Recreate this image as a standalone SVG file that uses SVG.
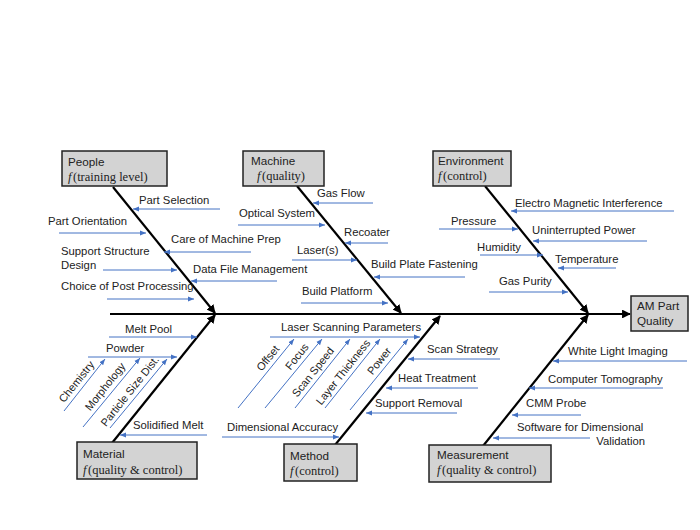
<svg xmlns="http://www.w3.org/2000/svg" width="700" height="530" viewBox="0 0 700 530">
<defs>
<marker id="ba" viewBox="0 0 10 10" refX="10" refY="5" markerWidth="6" markerHeight="6" orient="auto"><path d="M0,1 L10,5 L0,9 z" fill="#4472c4"/></marker>
<marker id="ka" viewBox="0 0 10 10" refX="9" refY="5" markerWidth="4" markerHeight="4" orient="auto"><path d="M0,0 L10,5 L0,10 z" fill="#000"/></marker>
<style>
.bl{stroke:#4472c4;stroke-width:1;fill:none;marker-end:url(#ba)}
.bone{stroke:#000;stroke-width:2.2;fill:none;marker-end:url(#ka)}
.t{font-family:"Liberation Sans",Arial,sans-serif;font-size:11.3px;fill:#222}
.r{font-family:"Liberation Sans",Arial,sans-serif;font-size:11px;fill:#222;text-anchor:middle}
.box{fill:#d3d3d3;stroke:#222;stroke-width:1.5}
.bt{font-family:"Liberation Sans",Arial,sans-serif;font-size:11.7px;fill:#222}
.ft{font-family:"Liberation Serif","Times New Roman",serif;font-size:12.5px;fill:#222}
</style>
</defs>
<rect width="700" height="530" fill="#fff"/>
<g id="connectors">
<line class="bone" x1="110" y1="314" x2="630" y2="314" stroke-width="2.5"/>
<line class="bone" x1="113" y1="187" x2="215" y2="313"/>
<line class="bone" x1="297" y1="186" x2="401" y2="313"/>
<line class="bone" x1="485" y1="186" x2="588" y2="313"/>
<line class="bone" x1="112" y1="443" x2="215" y2="315"/>
<line class="bone" x1="335" y1="445" x2="440" y2="316"/>
<line class="bone" x1="483" y1="446" x2="588" y2="315"/>
<line class="bl" x1="220" y1="209" x2="133" y2="209"/>
<line class="bl" x1="59" y1="233" x2="146" y2="233"/>
<line class="bl" x1="251" y1="252" x2="164" y2="252"/>
<line class="bl" x1="103" y1="270" x2="177" y2="270"/>
<line class="bl" x1="277" y1="281" x2="191" y2="281"/>
<line class="bl" x1="107" y1="299" x2="194" y2="299"/>
<line class="bl" x1="373" y1="203" x2="313" y2="203"/>
<line class="bl" x1="238" y1="225" x2="325" y2="225"/>
<line class="bl" x1="388" y1="243" x2="345" y2="243"/>
<line class="bl" x1="292" y1="260" x2="357" y2="260"/>
<line class="bl" x1="465" y1="277" x2="374" y2="277"/>
<line class="bl" x1="301" y1="303" x2="388" y2="303"/>
<line class="bl" x1="674" y1="211" x2="511" y2="211"/>
<line class="bl" x1="439" y1="229" x2="518" y2="229"/>
<line class="bl" x1="647" y1="241" x2="533" y2="241"/>
<line class="bl" x1="480" y1="255" x2="543" y2="255"/>
<line class="bl" x1="616" y1="268" x2="558" y2="268"/>
<line class="bl" x1="489" y1="292" x2="568" y2="292"/>
<line class="bl" x1="109" y1="337" x2="197" y2="337"/>
<line class="bl" x1="88" y1="357" x2="177" y2="357"/>
<line class="bl" x1="64" y1="411" x2="105" y2="359"/>
<line class="bl" x1="83" y1="427" x2="140" y2="358"/>
<line class="bl" x1="110" y1="428" x2="167" y2="359"/>
<line class="bl" x1="207" y1="435" x2="120" y2="435"/>
<line class="bl" x1="270" y1="337" x2="420" y2="337"/>
<line class="bl" x1="238" y1="408" x2="294" y2="339"/>
<line class="bl" x1="265" y1="408" x2="322" y2="339"/>
<line class="bl" x1="295" y1="408" x2="350" y2="339"/>
<line class="bl" x1="325" y1="408" x2="380" y2="339"/>
<line class="bl" x1="350" y1="410" x2="408" y2="339"/>
<line class="bl" x1="500" y1="359" x2="408" y2="359"/>
<line class="bl" x1="478" y1="388" x2="386" y2="388"/>
<line class="bl" x1="457" y1="413" x2="366" y2="413"/>
<line class="bl" x1="222" y1="437" x2="339" y2="437"/>
<line class="bl" x1="687" y1="361" x2="553" y2="361"/>
<line class="bl" x1="663" y1="388" x2="529" y2="388"/>
<line class="bl" x1="581" y1="415" x2="512" y2="415"/>
<line class="bl" x1="590" y1="438" x2="493" y2="438"/>
</g>
<g id="labels">
<text class="t" x="139" y="204">Part Selection</text>
<text class="t" x="48" y="225">Part Orientation</text>
<text class="t" x="171" y="243">Care of Machine Prep</text>
<text class="t" x="61" y="255">Support Structure</text>
<text class="t" x="61" y="269">Design</text>
<text class="t" x="193" y="273">Data File Management</text>
<text class="t" x="61" y="290">Choice of Post Processing</text>
<text class="t" x="317" y="197">Gas Flow</text>
<text class="t" x="239" y="217">Optical System</text>
<text class="t" x="344" y="236">Recoater</text>
<text class="t" x="297" y="254">Laser(s)</text>
<text class="t" x="371" y="268">Build Plate Fastening</text>
<text class="t" x="302" y="295">Build Platform</text>
<text class="t" x="515" y="207">Electro Magnetic Interference</text>
<text class="t" x="451" y="225">Pressure</text>
<text class="t" x="532" y="234">Uninterrupted Power</text>
<text class="t" x="477" y="251">Humidity</text>
<text class="t" x="555" y="263">Temperature</text>
<text class="t" x="499" y="285">Gas Purity</text>
<text class="t" x="125" y="333">Melt Pool</text>
<text class="t" x="106" y="352">Powder</text>
<text class="t" x="133" y="429">Solidified Melt</text>
<text class="r" transform="translate(79.5,384) rotate(-51.5)">Chemistry</text>
<text class="r" transform="translate(108.1,389) rotate(-51.5)">Morphology</text>
<text class="r" transform="translate(132.8,393.4) rotate(-51.5)">Particle Size Dist.</text>
<text class="t" x="281" y="331">Laser Scanning Parameters</text>
<text class="r" transform="translate(270.8,360.4) rotate(-51.5)">Offset</text>
<text class="r" transform="translate(299.8,358.9) rotate(-51.5)">Focus</text>
<text class="r" transform="translate(316,374.4) rotate(-51.5)">Scan Speed</text>
<text class="r" transform="translate(346,374.4) rotate(-51.5)">Layer Thickness</text>
<text class="r" transform="translate(382.2,363.4) rotate(-51.5)">Power</text>
<text class="t" x="427" y="353">Scan Strategy</text>
<text class="t" x="398" y="382">Heat Treatment</text>
<text class="t" x="375" y="407">Support Removal</text>
<text class="t" x="227" y="431">Dimensional Accuracy</text>
<text class="t" x="568" y="355">White Light Imaging</text>
<text class="t" x="548" y="383">Computer Tomography</text>
<text class="t" x="526" y="407">CMM Probe</text>
<text class="t" x="517" y="431">Software for Dimensional</text>
<text class="t" x="645" y="445" text-anchor="end">Validation</text>
</g>
<g id="people">
<rect class="box" x="62" y="151" width="105" height="35"/>
<text class="bt" x="68" y="166">People</text>
<text class="ft" x="68" y="181"><tspan font-style="italic">f</tspan><tspan dx="1.5">(training level)</tspan></text>
</g>
<g id="machine">
<rect class="box" x="243" y="151" width="81" height="35"/>
<text class="bt" x="251" y="165">Machine</text>
<text class="ft" x="257" y="180"><tspan font-style="italic">f</tspan><tspan dx="1.5">(quality)</tspan></text>
</g>
<g id="environment">
<rect class="box" x="433" y="151" width="78" height="35"/>
<text class="bt" x="438" y="165">Environment</text>
<text class="ft" x="438" y="180"><tspan font-style="italic">f</tspan><tspan dx="1.5">(control)</tspan></text>
</g>
<g id="am-part-quality">
<rect class="box" x="631" y="296" width="57" height="35"/>
<text class="bt" x="637" y="310">AM Part</text>
<text class="bt" x="637" y="325">Quality</text>
</g>
<g id="material">
<rect class="box" x="77" y="442" width="120" height="37"/>
<text class="bt" x="83" y="458">Material</text>
<text class="ft" x="83" y="474"><tspan font-style="italic">f</tspan><tspan dx="1.5">(quality &amp; control)</tspan></text>
</g>
<g id="method">
<rect class="box" x="284" y="444" width="73" height="37"/>
<text class="bt" x="290" y="460">Method</text>
<text class="ft" x="290" y="475"><tspan font-style="italic">f</tspan><tspan dx="1.5">(control)</tspan></text>
</g>
<g id="measurement">
<rect class="box" x="429" y="445" width="122" height="37"/>
<text class="bt" x="437" y="459">Measurement</text>
<text class="ft" x="437" y="474"><tspan font-style="italic">f</tspan><tspan dx="1.5">(quality &amp; control)</tspan></text>
</g>
</svg>
